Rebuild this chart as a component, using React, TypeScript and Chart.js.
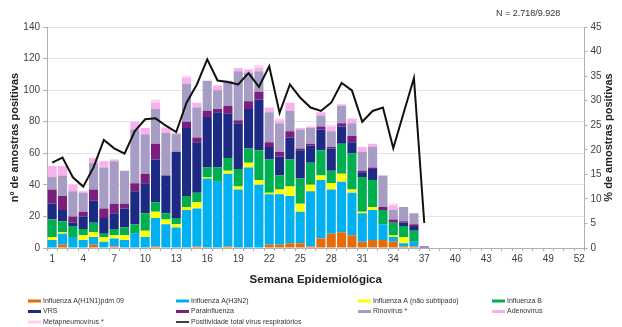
import React, { useEffect, useRef } from "react";
import { Chart, registerables } from "chart.js";

Chart.register(...registerables);

const FONT = "'Liberation Sans', Arial, sans-serif";

const weeks = ["1","2","3","4","5","6","7","8","9","10","11","12","13","14","15","16","17","18","19","20","21","22","23","24","25","26","27","28","29","30","31","32","33","34","35","36","37","38","39","40","41","42","43","44","45","46","47","48","49","50","51","52"];

const h1n1 = [0,2,0,0,2,0,1,0,0,0,1,0,0,0,1,0,0,1,0,0,0,2,2,3,3,1,6,9,10,8,4,5,5,4,1,1,0];
const h3n2 = [5,7,7,5,5,4,5,5,9,7,18,15,13,24,24,44,42,46,37,51,40,32,32,30,20,35,37,28,32,27,18,19,10,3,2,3,0];
const naoSubtipado = [2,1,0,3,3,3,2,3,0,4,4,3,2,2,4,1,0,2,2,3,3,1,3,6,5,4,3,4,5,2,1,2,0,1,4,0,0];
const influenzaB = [11,7,7,4,6,2,4,5,6,11,6,4,4,7,6,6,9,8,11,9,19,21,9,17,16,14,16,8,19,23,22,17,9,8,7,7,0];
const vrs = [10,7,2,8,14,10,10,12,21,19,27,24,42,43,32,32,35,28,29,25,32,8,12,14,18,11,13,14,11,7,3,7,0,0,2,3,1];
const parainfluenza = [9,9,4,3,7,6,6,3,5,6,10,0,0,4,3,4,2,5,2,5,5,3,3,4,1,1,2,1,2,4,1,1,2,2,1,1,0];
const rinovirus = [8,13,16,12,17,26,27,21,34,25,22,27,11,24,19,19,12,16,31,18,13,19,18,13,12,10,7,10,11,8,12,13,20,6,9,7,0];
const adenovirus = [7,6,4,1,3,4,1,0,5,4,4,3,1,4,3,0,3,0,2,2,2,3,2,5,1,1,2,3,1,3,3,2,0,3,0,0,0];
const metapneumovirus = [0,0,0,0,0,0,0,0,0,0,2,1,0,1,0,0,0,0,0,0,2,0,1,0,0,0,0,1,0,0,0,0,0,1,0,0,0];
const positividade = [17.4,18.4,14.4,12.5,16.4,22.0,20.3,19.2,23.8,26.2,26.4,24.9,23.6,29.6,33.3,38.4,34.1,33.8,33.3,35.6,32.8,37.0,27.5,33.3,30.6,28.6,27.9,29.6,33.6,32.1,25.7,27.9,28.6,20.3,27.5,34.6,5.1];

const barSeries = [
  { label: "Influenza A(H1N1)pdm 09", data: h1n1, color: "#E46C0A" },
  { label: "Influenza A(H3N2)", data: h3n2, color: "#00B0F0" },
  { label: "Influenza A (não subtipado)", data: naoSubtipado, color: "#FFFF00" },
  { label: "Influenza B", data: influenzaB, color: "#00B050" },
  { label: "VRS", data: vrs, color: "#1C2A84" },
  { label: "Parainfluenza", data: parainfluenza, color: "#7A1F7E" },
  { label: "Rinovírus *", data: rinovirus, color: "#A79CC4" },
  { label: "Adenovírus", data: adenovirus, color: "#FBB0EE" },
  { label: "Metapneumovírus *", data: metapneumovirus, color: "#FFD0F4" },
];
const lineLabel = "Positividade total vírus respiratórios";
const nText = "N = 2.718/9.928";

const legendOrder = [
  "Influenza A(H1N1)pdm 09", "Influenza A(H3N2)", "Influenza A (não subtipado)", "Influenza B",
  "VRS", "Parainfluenza", "Rinovírus *", "Adenovírus",
  "Metapneumovírus *", lineLabel,
];

const extrasPlugin = {
  id: "extras",
  afterDraw(chart: any) {
    const ctx = chart.ctx;
    ctx.save();
    ctx.fillStyle = "#333";
    ctx.font = `9px ${FONT}`;
    ctx.textAlign = "left";
    ctx.textBaseline = "middle";
    ctx.fillText(nText, 496, 14);
    const ca = chart.chartArea;
    ctx.save();
    ctx.translate(609, (ca.top + ca.bottom) / 2);
    ctx.rotate(-Math.PI / 2);
    ctx.font = `bold 11px ${FONT}`;
    ctx.fillStyle = "#222";
    ctx.textAlign = "center";
    ctx.textBaseline = "middle";
    ctx.fillText("% de amostras positivas", 0, 0);
    ctx.restore();
    const colX = [28, 176, 358, 492];
    const rowY = [301, 311.5, 322];
    ctx.font = `7px ${FONT}`;
    ctx.textAlign = "left";
    ctx.textBaseline = "middle";
    legendOrder.forEach((name, i) => {
      const x = colX[i % 4];
      const y = rowY[Math.floor(i / 4)];
      if (name === lineLabel) {
        ctx.fillStyle = "#000";
        ctx.fillRect(x, y - 0.75, 13, 1.5);
      } else {
        const s = barSeries.find((b) => b.label === name)!;
        ctx.fillStyle = s.color;
        ctx.fillRect(x, y - 1.5, 13, 3);
      }
      ctx.fillStyle = "#333";
      ctx.fillText(name, x + 15, y);
    });
    ctx.restore();
  },
};

export default function App() {
  const ref = useRef<HTMLCanvasElement>(null);
  useEffect(() => {
    if (!ref.current) return;
    const datasets: any[] = [
      {
        type: "line",
        label: lineLabel,
        data: positividade,
        yAxisID: "y1",
        borderColor: "#111",
        backgroundColor: "#111",
        borderWidth: 2,
        pointRadius: 0,
        tension: 0,
        order: 0,
      },
      ...barSeries.map((s) => ({
        type: "bar",
        label: s.label,
        data: s.data,
        yAxisID: "y",
        backgroundColor: s.color,
        borderWidth: 0,
        barPercentage: 0.88,
        categoryPercentage: 1,
        stack: "s",
        order: 1,
      })),
    ];
    const chart = new Chart(ref.current, {
      type: "bar",
      data: { labels: weeks, datasets },
      plugins: [extrasPlugin],
      options: {
        responsive: false,
        animation: false,
        devicePixelRatio: 1,
        layout: { padding: { top: 27, left: 0, right: 0, bottom: 0 } },
        plugins: { legend: { display: false }, tooltip: { enabled: false } },
        scales: {
          x: {
            stacked: true,
            offset: true,
            grid: { display: true, drawOnChartArea: false, offset: true, tickLength: 3, tickColor: "#B0B0B0" },
            border: { display: true, color: "#B0B0B0" },
            ticks: {
              autoSkip: false,
              maxRotation: 0,
              padding: 2,
              color: "#404040",
              font: { family: FONT, size: 10 },
              callback: (_v: any, i: number) => (i % 3 === 0 ? weeks[i] : ""),
            },
            title: {
              display: true,
              text: "Semana Epidemiológica",
              color: "#222",
              font: { family: FONT, size: 11.5, weight: "bold" },
              padding: { top: 0, bottom: 40 },
            },
            afterFit: (s: any) => { s.height = 79; },
          },
          y: {
            type: "linear",
            position: "left",
            stacked: true,
            min: 0,
            max: 140,
            ticks: { stepSize: 20, padding: 3, color: "#404040", font: { family: FONT, size: 10 } },
            grid: { color: "#E4E4E4", tickLength: 4, tickColor: "#B0B0B0" },
            border: { display: true, color: "#B0B0B0" },
            title: {
              display: true,
              text: "nº de amostras positivas",
              color: "#222",
              font: { family: FONT, size: 11, weight: "bold" },
              padding: { top: 8, bottom: 0 },
            },
            afterFit: (s: any) => { s.width = 47; },
          },
          y1: {
            type: "linear",
            position: "right",
            min: 0,
            max: 45,
            ticks: { stepSize: 5, padding: 3, color: "#404040", font: { family: FONT, size: 10 } },
            grid: { drawOnChartArea: false, tickLength: 3, tickColor: "#B0B0B0" },
            border: { display: true, color: "#B0B0B0" },
            afterFit: (s: any) => { s.width = 37.5; },
          },
        },
      } as any,
    });
    return () => chart.destroy();
  }, []);
  return (
    <div style={{ position: "absolute", left: 0, top: 0, width: 622, height: 327, background: "#fff" }}>
      <canvas ref={ref} width={622} height={327} />
    </div>
  );
}
